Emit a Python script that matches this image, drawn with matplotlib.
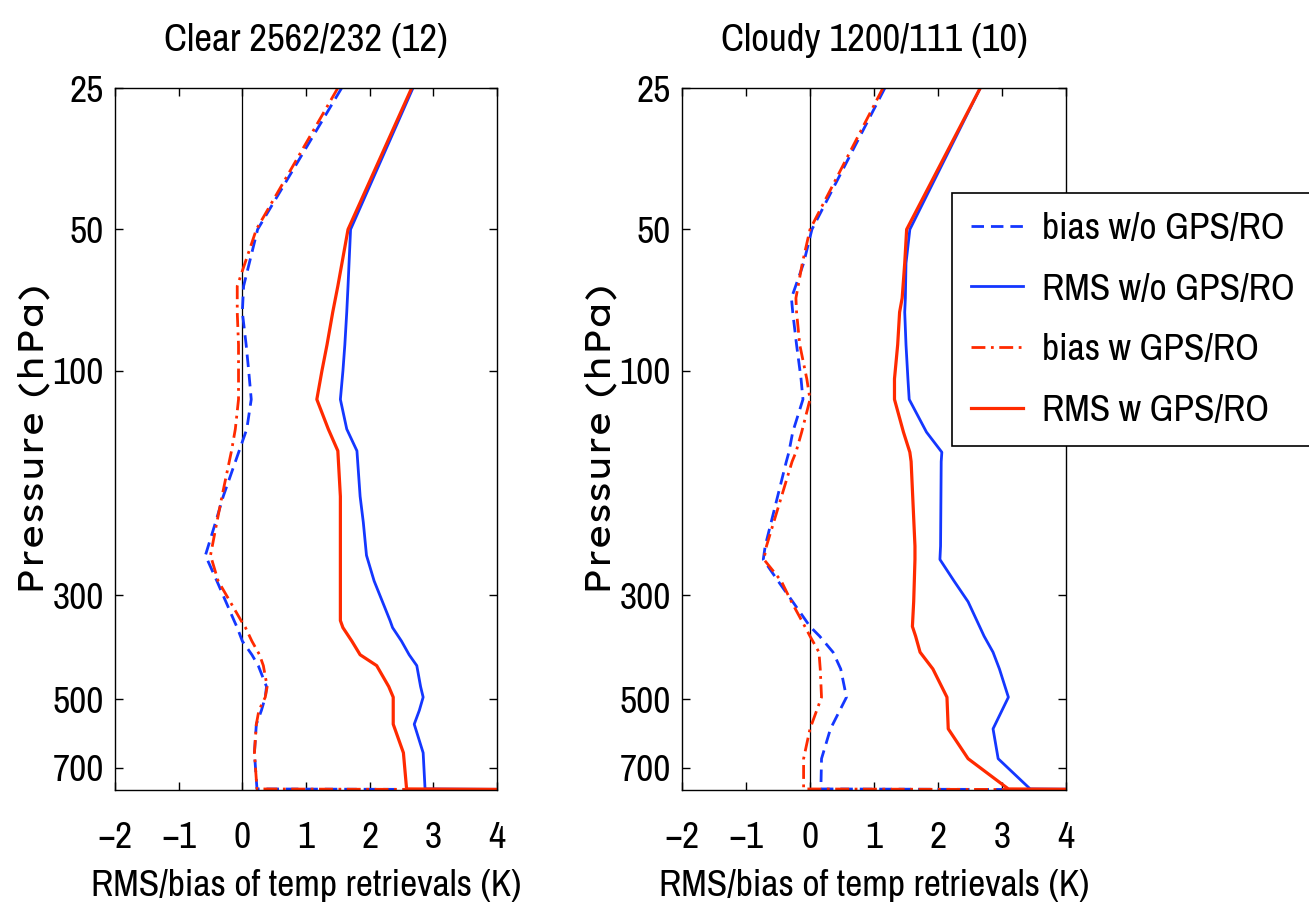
import matplotlib
matplotlib.use("Agg")
import matplotlib.pyplot as plt
from matplotlib.ticker import FixedLocator, FixedFormatter, NullLocator

plt.rcParams['font.family'] = ['Archivo Narrow', 'DejaVu Sans']
plt.rcParams['font.stretch'] = 'condensed'

# ---------------- data ----------------
titles = ["Clear 2562/232 (12)", "Cloudy 1200/111 (10)"]
labels = ["bias w/o GPS/RO", "RMS w/o GPS/RO", "bias w GPS/RO", "RMS w GPS/RO"]

clear_p = [25, 50, 66, 75, 88, 100, 115, 133, 148, 185, 210, 247, 280, 340, 352, 376,
           402, 424, 470, 495, 528, 565, 650, 776, 780]
clear_rms_wo = [2.68, 1.70, 1.66, 1.64, 1.61, 1.58, 1.54, 1.64, 1.80, 1.85, 1.90, 1.95, 2.07,
                2.32, 2.36, 2.50, 2.62, 2.74, 2.80, 2.84, 2.78, 2.70, 2.84, 2.87, 6.0]
clear_rms_w = [2.66, 1.66, 1.50, 1.42, 1.33, 1.25, 1.17, 1.35, 1.50, 1.54, 1.54, 1.54, 1.54,
               1.54, 1.58, 1.72, 1.85, 2.11, 2.30, 2.37, 2.37, 2.37, 2.53, 2.58, 6.0]
clear_bias_wo = [1.56, 0.24, 0.02, 0.00, 0.06, 0.10, 0.14, 0.07, -0.05, -0.30, -0.42, -0.58,
                 -0.40, -0.13, -0.08, 0.00, 0.15, 0.25, 0.38, 0.36, 0.30, 0.22, 0.19, 0.23, 6.0]
clear_bias_w = [1.50, 0.22, -0.08, -0.08, -0.06, -0.06, -0.06, -0.11, -0.17, -0.32, -0.40,
                -0.50, -0.38, -0.02, 0.05, 0.15, 0.27, 0.33, 0.39, 0.36, 0.26, 0.22, 0.19, 0.23, 6.0]

cloudy_p = [25, 50, 59, 70, 75, 88, 104, 115, 135, 149, 156, 236, 252, 280, 310, 350, 367,
            397, 431, 495, 578, 669, 776, 780]
cloudy_rms_wo = [2.66, 1.56, 1.50, 1.49, 1.48, 1.50, 1.53, 1.55, 1.82, 2.06, 2.05, 2.04, 2.03,
                 2.25, 2.47, 2.65, 2.72, 2.86, 2.96, 3.10, 2.86, 2.94, 3.44, 6.0]
cloudy_rms_w = [2.66, 1.51, 1.48, 1.44, 1.40, 1.37, 1.32, 1.32, 1.46, 1.56, 1.58, 1.64, 1.64,
                1.63, 1.62, 1.60, 1.65, 1.72, 1.92, 2.14, 2.16, 2.47, 3.10, 6.0]
cloudy_bias_wo = [1.17, 0.03, -0.10, -0.29, -0.27, -0.21, -0.14, -0.11, -0.27, -0.33, -0.37,
                  -0.70, -0.73, -0.50, -0.27, 0.00, 0.15, 0.36, 0.48, 0.57, 0.32, 0.18, 0.17, 6.0]
cloudy_bias_w = [1.14, 0.00, -0.12, -0.22, -0.21, -0.16, -0.05, 0.00, -0.13, -0.22, -0.28,
                 -0.68, -0.72, -0.45, -0.29, -0.08, 0.00, 0.14, 0.16, 0.18, 0.00, -0.10, -0.10, 6.0]

xticks = [-2, -1, 0, 1, 2, 3, 4]
yticks = [25, 50, 100, 300, 500, 700]

BLUE = '#1437ff'
RED = '#ff2a00'
FS = 27

fig = plt.figure(figsize=(13.09, 9.23), dpi=100)
ax1 = fig.add_axes([115/1309, 133/923, 382/1309, 702/923])
ax2 = fig.add_axes([682/1309, 133/923, 384/1309, 702/923])

panels = [
    (ax1, clear_p, clear_bias_wo, clear_rms_wo, clear_bias_w, clear_rms_w, titles[0]),
    (ax2, cloudy_p, cloudy_bias_wo, cloudy_rms_wo, cloudy_bias_w, cloudy_rms_w, titles[1]),
]

handles = None
for ax, p, bwo, rwo, bw, rw, title in panels:
    ax.axvline(0, color='black', lw=0.9, zorder=1)
    h1, = ax.plot(bwo, p, color=BLUE, lw=2.0, linestyle=(0, (4.5, 2.5)), label=labels[0])
    h2, = ax.plot(rwo, p, color=BLUE, lw=2.0, linestyle='-', label=labels[1])
    h3, = ax.plot(bw, p, color=RED, lw=2.0, linestyle=(0, (5, 2, 1, 2)), label=labels[2])
    h4, = ax.plot(rw, p, color=RED, lw=2.3, linestyle='-', label=labels[3])
    handles = [h1, h2, h3, h4]
    ax.set_yscale('log')
    ax.set_ylim(780, 25)
    ax.set_xlim(-2, 4)
    ax.yaxis.set_major_locator(FixedLocator(yticks))
    ax.yaxis.set_major_formatter(FixedFormatter([str(t) for t in yticks]))
    ax.yaxis.set_minor_locator(NullLocator())
    ax.set_xticks(xticks)
    ax.set_xticklabels([str(t).replace('-', '\u2212') for t in xticks])
    ax.tick_params(direction='in', length=6, width=1, top=True, right=True,
                   labelsize=FS)
    ax.tick_params(axis='x', pad=22)
    ax.tick_params(axis='y', pad=8)
    for s in ax.spines.values():
        s.set_linewidth(1.0)
    ax.set_title(title, fontsize=28, pad=27)
    ax.set_xlabel("RMS/bias of temp retrievals (K)", fontsize=FS, labelpad=11)
    ax.set_ylabel("Pressure (hPa)", fontsize=25,
                  family=['Lexend Exa', 'DejaVu Sans'], fontstretch='normal')
    bbox = ax.get_position()
    ax.yaxis.set_label_coords((-65 / 1309) / bbox.width, 0.5)

leg = fig.legend(handles=handles, labels=labels, loc='upper left',
                 bbox_to_anchor=(952/1309, 1 - 193/923), fontsize=FS,
                 frameon=True, fancybox=False, edgecolor='black', framealpha=1,
                 handlelength=1.4, handletextpad=0.5, labelspacing=0.74,
                 borderpad=0.5, borderaxespad=0)
leg.get_frame().set_linewidth(1.2)

fig.savefig("out.png", dpi=100)
